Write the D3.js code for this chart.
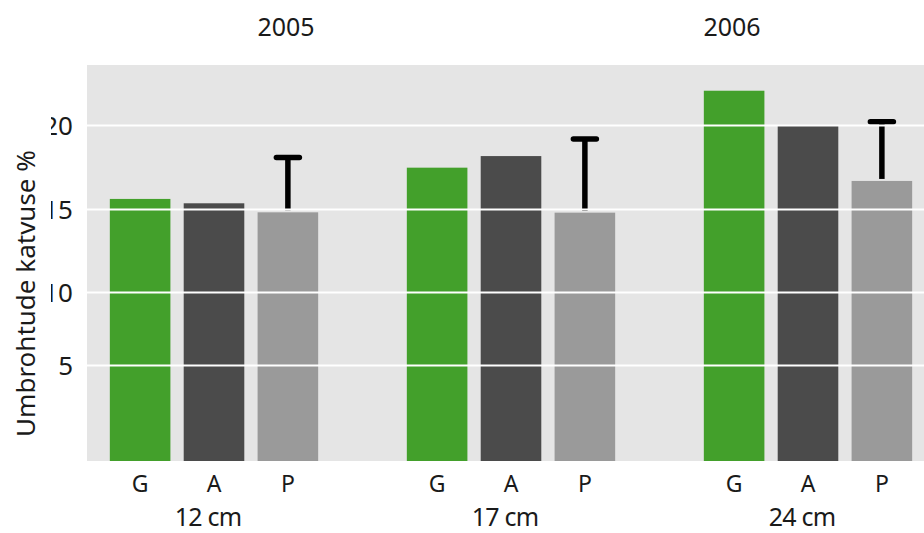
<!DOCTYPE html>
<html>
<head>
<meta charset="utf-8">
<script src="https://cdn.jsdelivr.net/npm/d3@7"></script>
<style>
  html, body { margin: 0; padding: 0; background: #ffffff; }
  svg { display: block; font-family: "Noto Sans", "Open Sans", sans-serif; }
</style>
</head>
<body>
<svg id="chart" width="924" height="533"></svg>
<script>
// Umbrohu katvus (%) by seeding depth and treatment
const depths = ["12 cm", "17 cm", "24 cm"];
const treatments = ["G", "A", "P"];
const valuesG = [15.6, 17.46, 22.04];
const valuesA = [15.34, 18.15, 19.94];
const valuesP = [14.8, 14.78, 16.67];
const errorUpperP = [18.07, 19.17, 20.2];
const yTicks = [5, 10, 15, 20];
const yearLabels = ["2005", "2006"];
const yTitle = "Umbrohtude katvuse %";

const colors = { G: "#43a02b", A: "#4b4b4b", P: "#9a9a9a" };

const rows = depths.map((d, i) => ({
  depth: d,
  bars: [
    { key: "G", value: valuesG[i] },
    { key: "A", value: valuesA[i] },
    { key: "P", value: valuesP[i], upper: errorUpperP[i] }
  ]
}));

const svg = d3.select("#chart");

const plot = { left: 87, right: 924, top: 65, bottom: 461 };

// Value axis: the printed gridlines are not evenly spaced, so the scale
// follows them segment by segment.
const y = d3.scaleLinear()
  .domain([0, 5, 10, 15, 20])
  .range([461, 365, 292, 209, 125]);

const x0 = d3.scaleBand()
  .domain(depths)
  .range([65.5, 956.5])
  .paddingInner(0)
  .paddingOuter(0);

const x1 = d3.scaleBand()
  .domain(treatments)
  .range([0, x0.bandwidth()])
  .paddingInner(0.18)
  .paddingOuter(0.6);

// plot background
svg.append("rect")
  .attr("x", plot.left)
  .attr("y", plot.top)
  .attr("width", plot.right - plot.left)
  .attr("height", plot.bottom - plot.top)
  .attr("fill", "#e5e5e5");

// bars
const groups = svg.append("g").selectAll("g")
  .data(rows)
  .join("g")
  .attr("transform", d => `translate(${x0(d.depth)},0)`);

groups.selectAll("rect")
  .data(d => d.bars)
  .join("rect")
  .attr("x", d => x1(d.key))
  .attr("width", x1.bandwidth())
  .attr("y", d => y(d.value))
  .attr("height", d => y(0) - y(d.value))
  .attr("fill", d => colors[d.key]);

// gridlines over the bars; the tick numbers are cut off on the left
const yAxis = d3.axisLeft(y)
  .tickValues(yTicks)
  .tickSize(-(plot.right - plot.left))
  .tickFormat(d3.format("d"));

svg.append("clipPath").attr("id", "axisClip")
  .append("rect")
  .attr("x", 51 - plot.left)
  .attr("y", 0)
  .attr("width", 1000)
  .attr("height", 533);

const gAxis = svg.append("g")
  .attr("transform", `translate(${plot.left},0)`)
  .attr("clip-path", "url(#axisClip)")
  .call(yAxis);
gAxis.select(".domain").remove();
gAxis.selectAll(".tick line")
  .attr("stroke", "#ffffff")
  .attr("stroke-width", 2);
gAxis.selectAll(".tick text")
  .attr("x", -14)
  .attr("dy", "0.35em")
  .attr("fill", "#1a1a1a")
  .attr("font-size", 26)
  .attr("font-family", "Noto Sans, sans-serif");

// error bars on P
const err = groups.selectAll("g.err")
  .data(d => d.bars.filter(b => b.upper !== undefined))
  .join("g")
  .attr("class", "err");
err.append("line")
  .attr("x1", d => x1(d.key) + x1.bandwidth() / 2)
  .attr("x2", d => x1(d.key) + x1.bandwidth() / 2)
  .attr("y1", d => y(d.value) - 2)
  .attr("y2", d => y(d.upper))
  .attr("stroke", "#000")
  .attr("stroke-width", 5.5);
err.append("line")
  .attr("x1", d => x1(d.key) + x1.bandwidth() / 2 - 11.5)
  .attr("x2", d => x1(d.key) + x1.bandwidth() / 2 + 11.5)
  .attr("y1", d => y(d.upper))
  .attr("y2", d => y(d.upper))
  .attr("stroke", "#000")
  .attr("stroke-width", 5.5)
  .attr("stroke-linecap", "round");

// treatment labels
groups.selectAll("text.trt")
  .data(d => d.bars)
  .join("text")
  .attr("class", "trt")
  .attr("x", d => x1(d.key) + x1.bandwidth() / 2)
  .attr("y", 492)
  .attr("text-anchor", "middle")
  .attr("font-size", 23)
  .attr("fill", "#1a1a1a")
  .text(d => d.key);

// depth labels
groups.append("text")
  .attr("x", x1("A") + x1.bandwidth() / 2 - 6)
  .attr("y", 526)
  .attr("text-anchor", "middle")
  .attr("font-size", 25)
  .attr("letter-spacing", -0.8)
  .attr("fill", "#1a1a1a")
  .text(d => d.depth);

// year headings
svg.selectAll("text.year")
  .data(yearLabels)
  .join("text")
  .attr("class", "year")
  .attr("x", (d, i) => [286, 732][i])
  .attr("y", 36)
  .attr("text-anchor", "middle")
  .attr("font-size", 25)
  .attr("fill", "#1a1a1a")
  .text(d => d);

// axis title
svg.append("text")
  .attr("transform", "rotate(-90)")
  .attr("x", -293.5)
  .attr("y", 35)
  .attr("text-anchor", "middle")
  .attr("font-size", 26)
  .attr("fill", "#1a1a1a")
  .text(yTitle);
</script>
</body>
</html>
